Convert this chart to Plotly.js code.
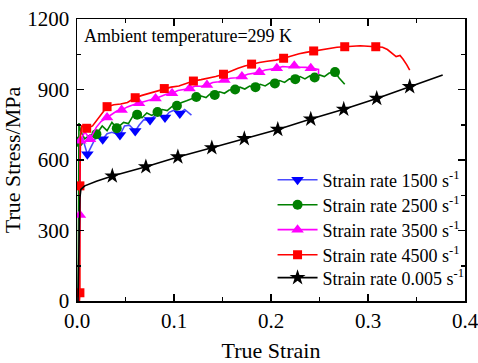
<!DOCTYPE html>
<html>
<head>
<meta charset="utf-8">
<script src="https://cdn.plot.ly/plotly-3.0.1.min.js"></script>
<style>html,body{margin:0;padding:0;background:#fff}#chart{width:478px;height:363px}</style>
</head>
<body>
<div id="chart"></div>
<script>
// ---- Series names ----
const seriesNames = ['Strain rate 1500 s<sup>-1</sup>','Strain rate 2500 s<sup>-1</sup>','Strain rate 3500 s<sup>-1</sup>','Strain rate 4500 s<sup>-1</sup>','Strain rate 0.005 s<sup>-1</sup>'];

// ---- 1500 s^-1 (blue) ----
const r1500LineX = [0.002,0.0025,0.003,0.006,0.0107,0.015,0.020,0.0265,0.031,0.036,0.0443,0.049,0.054,0.060,0.064,0.069,0.0753,0.080,0.085,0.0907,0.095,0.100,0.106,0.111,0.118];
const r1500LineY = [0,400,685,690,624,660,700,688,712,718,706,745,748,723,748,772,770,788,792,781,803,812,798,815,791];
const r1500MarkX = [0.0107,0.0265,0.0443,0.060,0.0753,0.0907,0.106];
const r1500MarkY = [624,688,706,723,770,781,798];

// ---- 2500 s^-1 (green) ----
const r2500LineX = [0.0012,0.0015,0.002,0.004,0.008,0.013,0.020,0.026,0.031,0.036,0.041,0.048,0.053,0.058,0.062,0.067,0.072,0.077,0.083,0.088,0.093,0.098,0.103,0.108,0.113,0.118,0.123,0.128,0.133,0.137,0.142,0.147,0.152,0.157,0.163,0.168,0.173,0.178,0.184,0.189,0.194,0.199,0.204,0.209,0.214,0.219,0.225,0.230,0.235,0.240,0.245,0.250,0.255,0.260,0.266,0.270,0.273,0.276];
const r2500LineY = [0,678,757,720,690,705,710,745,725,760,735,760,755,790,793,780,800,790,804,815,810,828,831,845,852,860,868,872,866,880,877,890,884,898,900,910,902,915,910,922,915,928,926,938,930,945,944,955,945,958,951,962,955,970,974,950,935,922];
const r2500MarkX = [0.0015,0.020,0.041,0.062,0.083,0.103,0.123,0.142,0.163,0.184,0.204,0.225,0.245,0.266];
const r2500MarkY = [678,710,735,793,804,831,868,877,900,910,926,944,951,974];

// ---- 3500 s^-1 (magenta) ----
const r3500LineX = [0.002,0.003,0.0035,0.008,0.0134,0.020,0.025,0.031,0.036,0.041,0.046,0.052,0.058,0.064,0.070,0.075,0.081,0.087,0.092,0.098,0.104,0.110,0.116,0.122,0.128,0.134,0.140,0.146,0.152,0.158,0.164,0.170,0.176,0.182,0.188,0.194,0.200,0.206,0.212,0.218,0.224,0.230,0.236,0.241,0.246,0.249,0.249];
const r3500LineY = [0,366,682,720,688,740,765,781,795,808,813,826,835,841,850,855,862,872,880,884,896,900,904,915,914,919,930,933,940,948,950,955,965,968,973,983,985,990,998,996,1001,995,994,990,988,985,965];
const r3500MarkX = [0.003,0.0035,0.0134,0.031,0.046,0.064,0.081,0.098,0.116,0.134,0.152,0.170,0.188,0.206,0.224,0.241];
const r3500MarkY = [366,682,688,781,813,841,862,884,904,919,940,955,973,990,1001,990];

// ---- 4500 s^-1 (red) ----
const r4500LineX = [0.0025,0.003,0.003,0.0035,0.005,0.010,0.016,0.023,0.031,0.038,0.045,0.052,0.060,0.067,0.075,0.082,0.090,0.097,0.105,0.112,0.120,0.128,0.136,0.143,0.151,0.158,0.166,0.173,0.180,0.188,0.196,0.205,0.213,0.221,0.229,0.236,0.244,0.252,0.260,0.268,0.276,0.284,0.292,0.300,0.308,0.315,0.320,0.325,0.329,0.333,0.336,0.340,0.343];
const r4500LineY = [0,35,490,700,745,735,745,784,827,835,838,845,865,875,884,893,904,910,915,925,936,942,948,955,965,978,990,1000,1008,1015,1020,1025,1033,1043,1052,1058,1064,1070,1076,1080,1082,1085,1086,1084,1082,1080,1070,1055,1040,1045,1030,1005,982];
const r4500MarkX = [0.003,0.003,0.010,0.031,0.060,0.090,0.120,0.151,0.180,0.213,0.244,0.276,0.308];
const r4500MarkY = [35,490,735,827,865,904,936,965,1008,1033,1064,1082,1082];

// ---- 0.005 s^-1 (black) ----
const rQsLineX = [0.001,0.002,0.003,0.004,0.008,0.020,0.0364,0.071,0.104,0.139,0.1725,0.207,0.241,0.275,0.309,0.343,0.377];
const rQsLineY = [0,200,440,475,490,510,532,571,613,652,691,730,774,816,862,912,962];
const rQsMarkX = [0.0364,0.071,0.104,0.139,0.1725,0.207,0.241,0.275,0.309,0.343];
const rQsMarkY = [532,571,613,652,691,730,774,816,862,912];

// ---- Axis ticks ----
const xTickVals = [0.0,0.1,0.2,0.3,0.4];
const xTickText = ['0.0','0.1','0.2','0.3','0.4'];
const yTickVals = [0,300,600,900,1200];
const yTickText = ['0','300','600','900','1200'];

const annotationText = 'Ambient temperature=299 K';

const FONT = 'Liberation Serif, Times New Roman, serif';

const series = [
  {name: seriesNames[0], lx: r1500LineX, ly: r1500LineY, mx: r1500MarkX, my: r1500MarkY, color: '#0000ff', lineColor: '#4a4aff', symbol: 'triangle-down', size: 11},
  {name: seriesNames[1], lx: r2500LineX, ly: r2500LineY, mx: r2500MarkX, my: r2500MarkY, color: '#008000', lineColor: '#008000', symbol: 'circle', size: 10},
  {name: seriesNames[2], lx: r3500LineX, ly: r3500LineY, mx: r3500MarkX, my: r3500MarkY, color: '#ff00ff', lineColor: '#ff00ff', symbol: 'triangle-up', size: 11},
  {name: seriesNames[3], lx: r4500LineX, ly: r4500LineY, mx: r4500MarkX, my: r4500MarkY, color: '#ff0000', lineColor: '#ff0000', symbol: 'square', size: 9},
  {name: seriesNames[4], lx: rQsLineX, ly: rQsLineY, mx: rQsMarkX, my: rQsMarkY, color: '#000000', lineColor: '#000000', symbol: 'star', size: 12}
];

const traces = [];
series.forEach((s) => {
  traces.push({x: s.lx, y: s.ly, type: 'scatter', mode: 'lines', showlegend: false, hoverinfo: 'skip',
    line: {color: s.lineColor, width: 1.6}, cliponaxis: true});
  traces.push({x: s.mx, y: s.my, type: 'scatter', mode: 'markers', showlegend: false,
    marker: {symbol: s.symbol, size: s.size, color: s.color, line: {width: 0}}, cliponaxis: true});
});
const legendNames = ['legend','legend2','legend3','legend4','legend5'];
series.forEach((s, i) => {
  traces.push({x: [null], y: [null], type: 'scatter', mode: 'lines+markers', name: s.name, showlegend: true,
    legend: legendNames[i],
    line: {color: s.lineColor, width: 1.6},
    marker: {symbol: s.symbol, size: s.size, color: s.color, line: {width: 0}}});
});

function axisCommon() {
  return {
    showgrid: false, zeroline: false, showline: true, linecolor: '#000', linewidth: 1.5,
    mirror: 'allticks', ticks: 'inside', ticklen: 7, tickwidth: 1.5, tickcolor: '#000',
    tickfont: {family: FONT, size: 21, color: '#000'},
    tickmode: 'array', ticklabeloverflow: 'allow'
  };
}

const layout = {
  width: 478, height: 363,
  margin: {l: 77, r: 13, t: 19, b: 62, autoexpand: false},
  paper_bgcolor: '#fff', plot_bgcolor: '#fff',
  font: {family: FONT, color: '#000'},
  showlegend: true,
  xaxis: Object.assign(axisCommon(), {
    range: [0, 0.4], tickvals: xTickVals, ticktext: xTickText,
    minor: {ticks: 'inside', ticklen: 4, tickwidth: 1.5, tickcolor: '#000', dtick: 0.05, tick0: 0, showgrid: false},
    title: {text: 'True Strain', font: {family: FONT, size: 22, color: '#000'}, standoff: 12}
  }),
  yaxis: Object.assign(axisCommon(), {
    range: [0, 1200], tickvals: yTickVals, ticktext: yTickText,
    ticklabelstandoff: 2,
    minor: {ticks: 'inside', ticklen: 4, tickwidth: 1.5, tickcolor: '#000', dtick: 150, tick0: 0, showgrid: false},
    title: {text: 'True Stress/MPa', font: {family: FONT, size: 22, color: '#000'}, standoff: 4}
  }),
  annotations: [{
    text: annotationText, xref: 'paper', yref: 'paper', x: 0.012, y: 0.94,
    xanchor: 'left', yanchor: 'middle', showarrow: false,
    font: {family: FONT, size: 18, color: '#000'}
  }]
};
const legendYs = [0.429, 0.340, 0.252, 0.163, 0.082];
legendNames.forEach((ln, i) => {
  layout[ln] = {
    x: 0.504, y: legendYs[i], xanchor: 'left', yanchor: 'middle',
    bgcolor: 'rgba(0,0,0,0)', borderwidth: 0,
    font: {family: FONT, size: 18, color: '#000'},
    itemwidth: 40
  };
});

Plotly.newPlot('chart', traces, layout, {displayModeBar: false, staticPlot: true});
</script>
</body>
</html>
